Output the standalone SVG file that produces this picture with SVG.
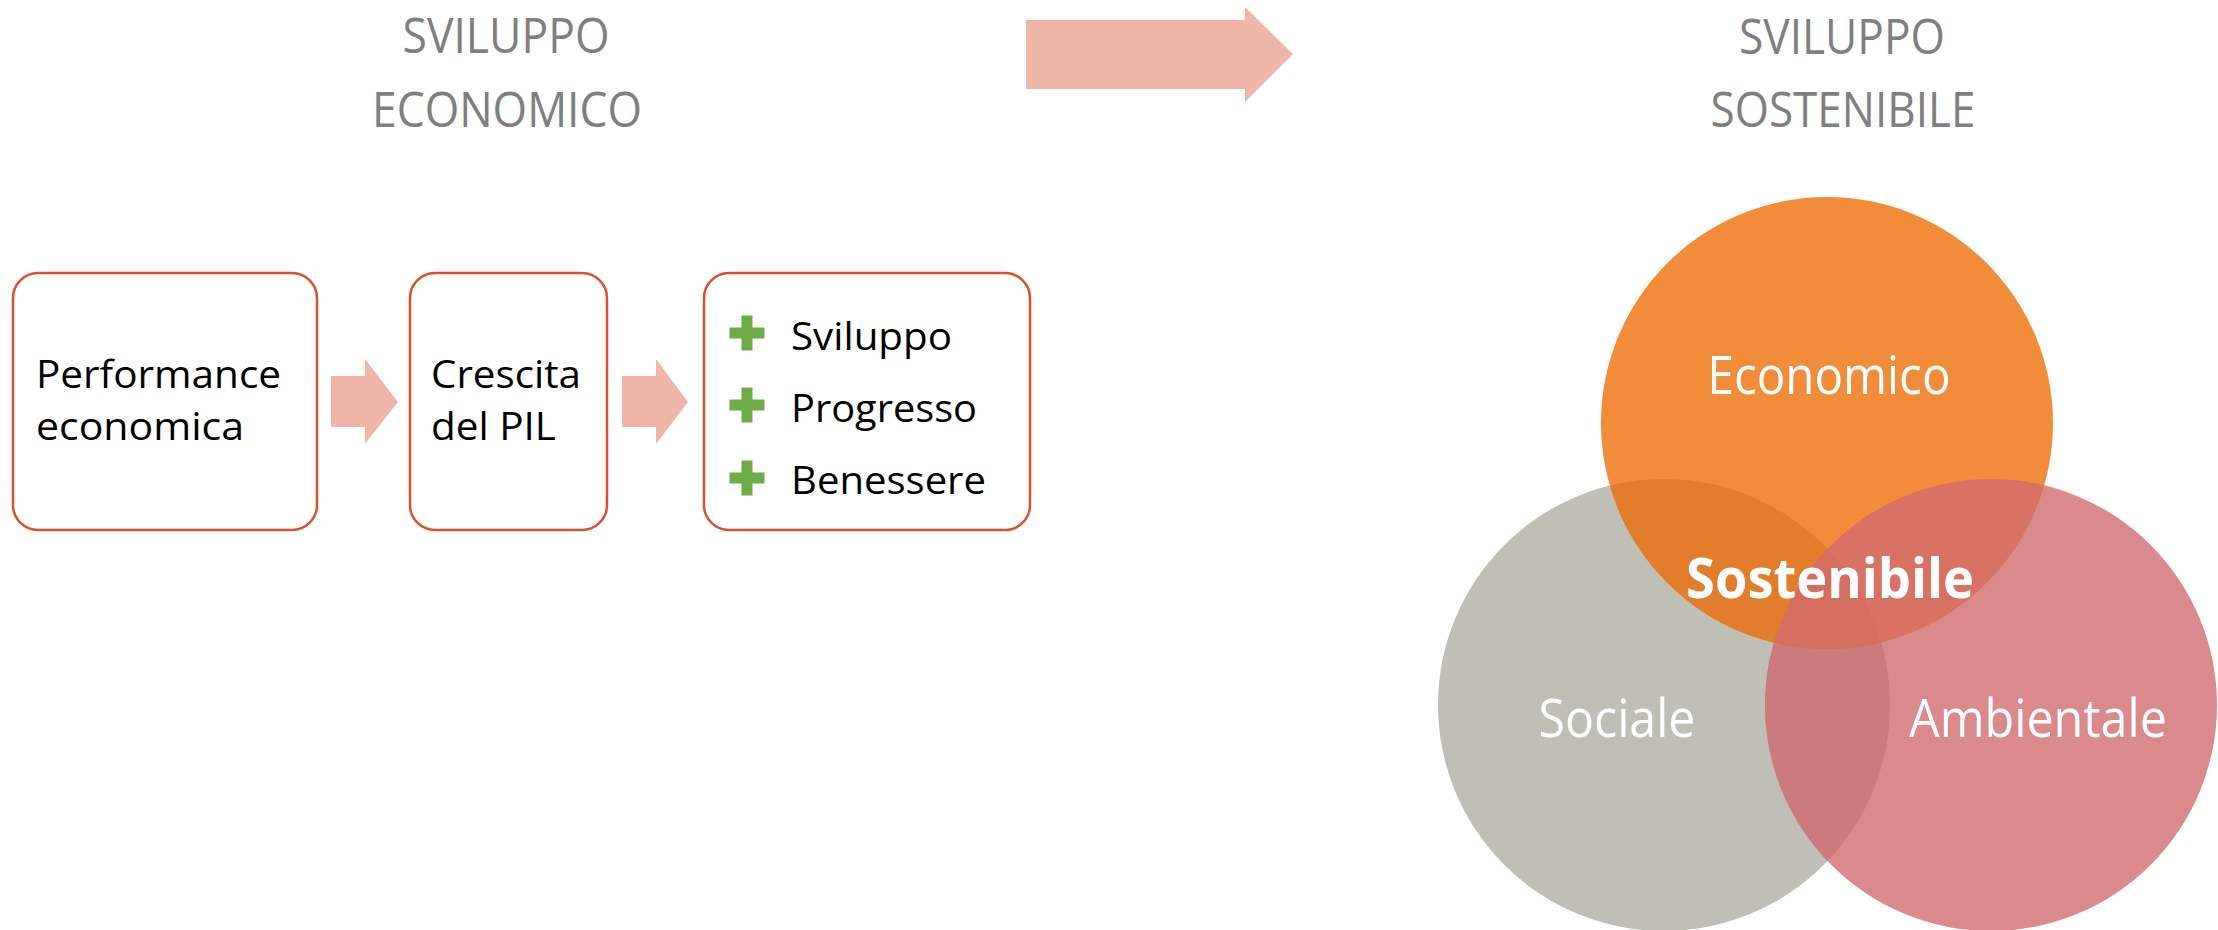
<svg xmlns="http://www.w3.org/2000/svg" width="2218" height="930" viewBox="0 0 2218 930">
  <style>
    .title { font-family: "Open Sans", "Liberation Sans", sans-serif; font-size: 49px; fill: #7F7F7F; text-anchor: middle; }
    .box { fill: #FFFFFF; stroke: #D9502E; stroke-width: 2.5; }
    .btxt { font-family: "Open Sans", "Liberation Sans", sans-serif; font-size: 39px; fill: #000000; }
    .arrow { fill: #EFB6A8; }
    .plus { fill: #6FAC46; }
    .ctxt { font-family: "Open Sans", "Liberation Sans", sans-serif; font-size: 53px; fill: #FFFFFF; text-anchor: middle; }
    .cbold { font-family: "Open Sans", "Liberation Sans", sans-serif; font-size: 56px; font-weight: bold; fill: #FFFFFF; text-anchor: middle; }
  </style>
  <defs>
    <clipPath id="clipEco"><circle cx="1827" cy="423" r="226"/></clipPath>
    <clipPath id="clipSoc"><circle cx="1664" cy="705" r="226"/></clipPath>
    <clipPath id="clipAmb"><circle cx="1991" cy="705" r="226"/></clipPath>
    <g id="plusShape">
      <rect x="-17.5" y="-5.5" width="35" height="11"/>
      <rect x="-5.5" y="-17.5" width="11" height="35"/>
    </g>
  </defs>
  <rect width="2218" height="930" fill="#FFFFFF"/>

  <g id="title-economico">
    <text class="title" x="506" y="53" textLength="207" lengthAdjust="spacingAndGlyphs">SVILUPPO</text>
    <text class="title" x="507" y="127" textLength="270" lengthAdjust="spacingAndGlyphs">ECONOMICO</text>
  </g>
  <g id="title-sostenibile">
    <text class="title" x="1842" y="54" textLength="206" lengthAdjust="spacingAndGlyphs">SVILUPPO</text>
    <text class="title" x="1843" y="127" textLength="265" lengthAdjust="spacingAndGlyphs">SOSTENIBILE</text>
  </g>

  <g id="connectors">
    <polygon class="arrow" points="1026,20 1245,20 1245,7 1293,54 1245,102 1245,89 1026,89"/>
    <polygon class="arrow" points="331,376 365,376 365,359 398,402 365,444 365,427 331,427"/>
    <polygon class="arrow" points="622,376 656,376 656,359 688,402 656,444 656,427 622,427"/>
  </g>

  <g id="box-performance">
    <rect class="box" x="13" y="273" width="304" height="257" rx="25" ry="25"/>
    <text class="btxt" x="36" y="388" textLength="245" lengthAdjust="spacingAndGlyphs">Performance</text>
    <text class="btxt" x="36" y="440" textLength="208" lengthAdjust="spacingAndGlyphs">economica</text>
  </g>
  <g id="box-crescita">
    <rect class="box" x="410" y="273" width="197" height="257" rx="25" ry="25"/>
    <text class="btxt" x="431" y="388" textLength="150" lengthAdjust="spacingAndGlyphs">Crescita</text>
    <text class="btxt" x="431" y="440" textLength="125" lengthAdjust="spacingAndGlyphs">del PIL</text>
  </g>
  <g id="box-benefici">
    <rect class="box" x="704" y="273" width="326" height="257" rx="25" ry="25"/>
    <use href="#plusShape" class="plus" x="747" y="333"/>
    <use href="#plusShape" class="plus" x="747" y="405"/>
    <use href="#plusShape" class="plus" x="747" y="478"/>
    <text class="btxt" x="791" y="350" textLength="161" lengthAdjust="spacingAndGlyphs">Sviluppo</text>
    <text class="btxt" x="791" y="422" textLength="186" lengthAdjust="spacingAndGlyphs">Progresso</text>
    <text class="btxt" x="791" y="494" textLength="195" lengthAdjust="spacingAndGlyphs">Benessere</text>
  </g>

  <g id="venn">
    <circle cx="1664" cy="705" r="226" fill="#BFBFB5"/>
    <circle cx="1991" cy="705" r="226" fill="#DA8A8A"/>
    <circle cx="1827" cy="423" r="226" fill="#F08C3A"/>
    <circle cx="1664" cy="705" r="226" fill="#CB7B7C" clip-path="url(#clipAmb)"/>
    <circle cx="1827" cy="423" r="226" fill="#E27D2B" clip-path="url(#clipSoc)"/>
    <circle cx="1827" cy="423" r="226" fill="#D87265" clip-path="url(#clipAmb)"/>
    <g clip-path="url(#clipSoc)">
      <circle cx="1827" cy="423" r="226" fill="#D46E5E" clip-path="url(#clipAmb)"/>
    </g>
  </g>
  <g id="node-economico">
    <text class="ctxt" x="1829" y="394" textLength="243" lengthAdjust="spacingAndGlyphs">Economico</text>
  </g>
  <g id="node-sociale">
    <text class="ctxt" x="1617" y="737" textLength="157" lengthAdjust="spacingAndGlyphs">Sociale</text>
  </g>
  <g id="node-ambientale">
    <text class="ctxt" x="2038" y="737" textLength="258" lengthAdjust="spacingAndGlyphs">Ambientale</text>
  </g>
  <g id="node-sostenibile">
    <text class="cbold" x="1830" y="598" textLength="288" lengthAdjust="spacingAndGlyphs">Sostenibile</text>
  </g>
</svg>
